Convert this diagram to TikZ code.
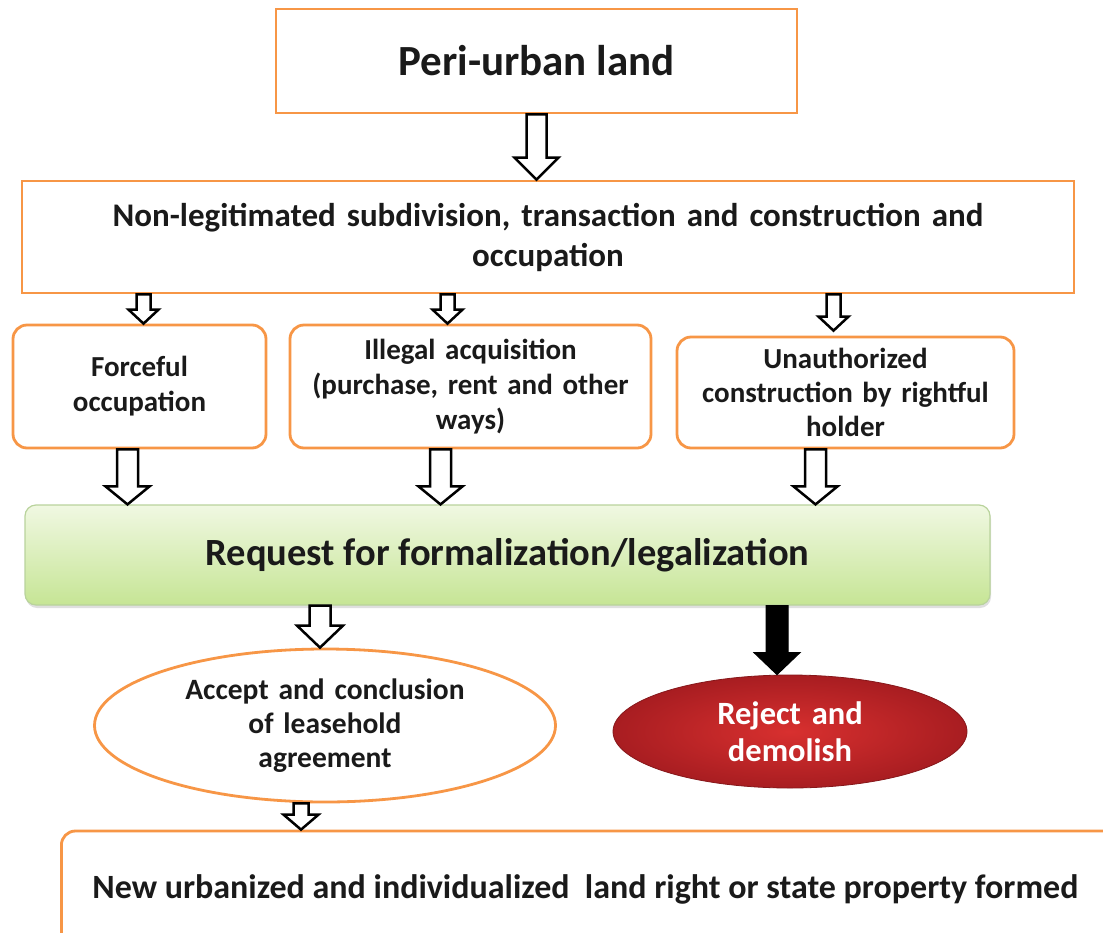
\documentclass[tikz,border=0pt]{standalone}
\usepackage{fontspec}
\setmainfont{Carlito}
\usetikzlibrary{calc,shapes.geometric,shadows}
\definecolor{boxorange}{HTML}{F79646}
\definecolor{inktext}{HTML}{1A1A1A}
\definecolor{greentop}{HTML}{F0F8E2}
\definecolor{greenbot}{HTML}{C6E595}
\definecolor{greenline}{HTML}{B9D39C}
\definecolor{redin}{HTML}{D8302F}
\definecolor{redout}{HTML}{A81D21}

% hollow (or filled) block arrow: style, start, end, shaft half width, head half width, head length
\newcommand\blockarrow[6]{%
  \path[#1] let \p1=(#2), \p2=(#3) in
    (\x1-#4pt,\y1) -- (\x1-#4pt,\y2+#6pt) -- (\x1-#5pt,\y2+#6pt) -- (\x1,\y2)
    -- (\x1+#5pt,\y2+#6pt) -- (\x1+#4pt,\y2+#6pt) -- (\x1+#4pt,\y1) -- cycle;}

\begin{document}
\begin{tikzpicture}[x=1pt,y=-1pt,
  every node/.style={font=\bfseries, text=inktext, inner sep=0pt},
  plainbox/.style={draw=boxorange, line width=2.8pt, fill=white, rectangle},
  roundbox/.style={plainbox, rounded corners=14pt},
  hollow/.style={draw=black, line width=2.5pt, fill=white, line join=miter},
  solidarrow/.style={draw=black, line width=1pt, fill=black}]
\useasboundingbox (0,0) rectangle (1103,932);
\clip (0,0) rectangle (1103,932);

% top level boxes
\node[plainbox, minimum width=521pt, minimum height=104pt,
      font=\bfseries\fontsize{43}{50}\selectfont] (land) at (536.5,61) {Peri-urban land};
\node[plainbox, minimum width=1052pt, minimum height=112pt, text width=1000pt, align=center,
      font=\bfseries\fontsize{33}{40}\selectfont] (subdiv) at (548,237)
      {Non-legitimated subdivision, transaction and construction and\\occupation};

% three routes
\node[roundbox, minimum width=253pt, minimum height=123pt, text width=240pt, align=center,
      font=\bfseries\fontsize{29}{35}\selectfont] (force) at (139.5,386.5) {Forceful\\occupation};
\node[roundbox, minimum width=361pt, minimum height=123pt, text width=350pt, align=center,
      font=\bfseries\fontsize{29}{35}\selectfont] (illegal) at (470.5,386.5)
      {Illegal acquisition\\(purchase, rent and other\\ways)};
\node[roundbox, minimum width=337pt, minimum height=111pt, text width=330pt, align=center,
      font=\bfseries\fontsize{29}{34}\selectfont] (unauth) at (845.5,392.5)
      {Unauthorized\\construction by rightful\\holder};

% request box
\node[rectangle, rounded corners=11pt, draw=greenline, line width=1.2pt,
      top color=greentop, bottom color=greenbot,
      drop shadow={shadow xshift=1pt, shadow yshift=-3pt, opacity=0.25},
      minimum width=965pt, minimum height=100pt,
      font=\bfseries\fontsize{38.5}{44}\selectfont] (request) at (507.5,555)
      {Request for formalization/legalization};

% outcomes
\node[ellipse, draw=boxorange, line width=2.8pt, fill=white,
      minimum width=461pt, minimum height=153pt, text width=300pt, align=center,
      font=\bfseries\fontsize{29.5}{34}\selectfont] (accept) at (325,725.5)
      {Accept and conclusion\\of leasehold\\agreement};
\node[ellipse, draw=redout!80!black, line width=0.8pt, inner color=redin, outer color=redout,
      minimum width=354pt, minimum height=113pt, text width=180pt, align=center, text=white,
      font=\bfseries\fontsize{32.5}{37}\selectfont] (reject) at (790,731.5)
      {Reject and\\demolish};

% result (runs past the right edge)
\node[roundbox, anchor=west, inner xsep=31pt, minimum height=117pt, text width=1030pt,
      align=flush left,
      font=\bfseries\fontsize{34}{40}\selectfont] (result) at (60,889.5)
      {New urbanized and individualized\ \ land right or state property formed};

% arrow anchors
\coordinate (aforce)  at ([xshift=4pt]force.north);
\coordinate (aillegal) at ([xshift=-23pt]illegal.north);
\coordinate (aunauth) at ([xshift=-12pt]unauth.north);
\coordinate (bforce)  at ([xshift=-12pt]force.south);
\coordinate (billegal) at ([xshift=-30pt]illegal.south);
\coordinate (bunauth) at ([xshift=-30pt]unauth.south);
\coordinate (aaccept) at ([xshift=-5pt]accept.north);
\coordinate (areject) at ([xshift=-13pt]reject.north);
\coordinate (baccept) at ([xshift=-24pt]accept.south);

% connectors
\blockarrow{hollow}{land.south}{subdiv.north}{10}{22}{22}
\blockarrow{hollow}{aforce |- subdiv.south}{aforce}{7}{15}{14}
\blockarrow{hollow}{aillegal |- subdiv.south}{aillegal}{7}{15}{14}
\blockarrow{hollow}{aunauth |- subdiv.south}{[yshift=5pt]aunauth}{7}{15}{14}
\blockarrow{hollow}{bforce}{bforce |- request.north}{10.5}{22}{18}
\blockarrow{hollow}{billegal}{billegal |- request.north}{10.5}{22}{18}
\blockarrow{hollow}{bunauth}{bunauth |- request.north}{10.5}{22}{18}
\blockarrow{hollow}{aaccept |- request.south}{aaccept}{10.5}{23}{22}
\blockarrow{solidarrow}{areject |- request.south}{areject}{11}{23}{22}
\blockarrow{hollow}{baccept}{baccept |- result.north}{7.5}{17.5}{15}
\end{tikzpicture}
\end{document}
